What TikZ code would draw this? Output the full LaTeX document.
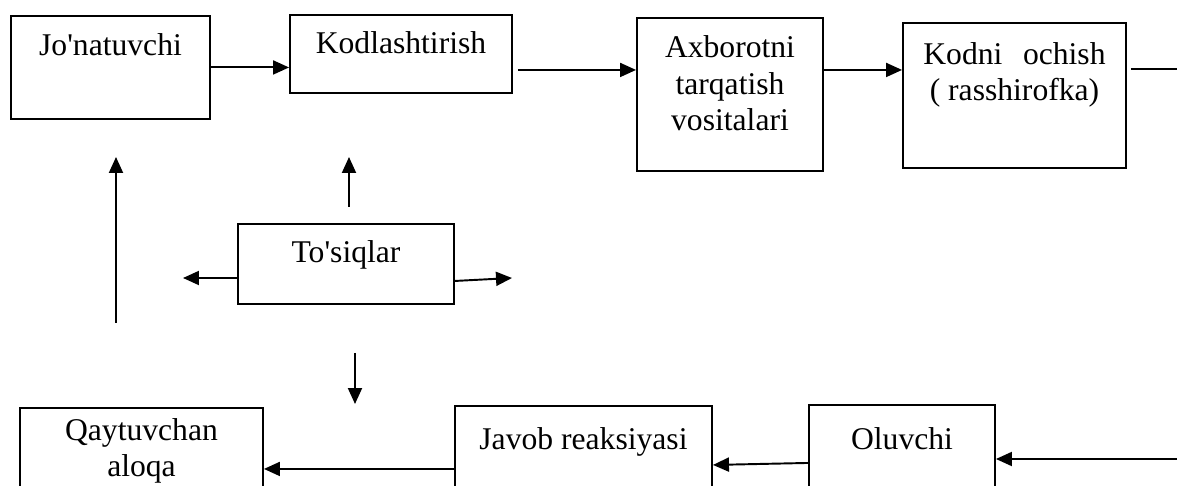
\documentclass[tikz,border=0pt]{standalone}
\usepackage{fontspec}
\setmainfont{Liberation Serif}
\usetikzlibrary{arrows.meta}

\tikzset{
	blok/.style n args={3}{draw, line width=1.1pt, inner sep=0pt, anchor=north, align=center,
		minimum width=#1, text height=#2, text depth=#3},
	strelka/.style={line width=1.1pt, -{Triangle[length=0.32cm, width=0.28cm]}}
}

\begin{document}
\begin{tikzpicture}[x=0.02cm, y=-0.02cm, font=\fontsize{18pt}{21pt}\selectfont]
	% The page
	\useasboundingbox (0, 0) rectangle (1177, 486);
	\clip (0, 0) rectangle (1177, 486);
	% The upper row (text height is the offset of the last line)
	\node[blok={3.98cm}{0.80cm}{1.26cm}] (jonat) at (110.5, 15) {Jo\textquotesingle natuvchi};
	\node[blok={4.44cm}{0.78cm}{0.78cm}] (kodlash) at (401, 14) {Kodlashtirish};
	\node[blok={3.72cm}{2.26cm}{0.80cm}] (axborot) at (730, 17) {Axborotni\\tarqatish\\vositalari};
	\node[blok={4.46cm}{1.56cm}{1.34cm}] (kodni) at (1014.5, 22) {Kodni\hspace{0.4em} ochish\\( rasshirofka)};
	% The obstacles
	\node[blok={4.32cm}{0.78cm}{0.82cm}] (tosiq) at (346, 223) {To\textquotesingle siqlar};
	% The lower row
	\node[blok={4.86cm}{1.38cm}{0.62cm}, font=\fontsize{18pt}{20.5pt}\selectfont] (qaytuv) at (141.5, 407) {Qaytuvchan\\aloqa};
	\node[blok={5.14cm}{0.88cm}{1.12cm}] (javob) at (583.5, 405) {Javob reaksiyasi};
	\node[blok={3.72cm}{0.90cm}{1.10cm}] (oluvchi) at (902, 404) {Oluvchi};
	% Free ends of the arrows
	\coordinate (chapquyi) at (116, 323);
	\coordinate (chaptepa) at (116, 157);
	\coordinate (tepaquyi) at (349, 207);
	\coordinate (tepatepa) at (349, 157);
	\coordinate (chapuch) at (183, 278);
	\coordinate (ungquyi) at (512, 278);
	\coordinate (pasttepa) at (355, 353);
	\coordinate (pastquyi) at (355, 404);
	\coordinate (ungtepa) at (1177, 69);
	\coordinate (ungpast) at (1177, 459);
	% The message goes to the right
	\draw[strelka] (jonat.east) -- (jonat.east -| kodlash.west);
	\draw[strelka] ([xshift=0.1cm, yshift=-0.32cm]kodlash.east) -- ([yshift=-0.32cm]kodlash.east -| axborot.west);
	\draw[strelka] ([yshift=0.49cm]axborot.east) -- ([yshift=0.49cm]axborot.east -| kodni.west);
	\draw[line width=1.1pt] ([xshift=0.08cm]kodni.east |- ungtepa) -- (ungtepa);
	% The answer comes back to the left
	\draw[strelka] (ungpast) -- (ungpast -| oluvchi.east);
	\draw[strelka] ([yshift=-0.16cm]oluvchi.west) -- ([yshift=-0.2cm]oluvchi.west -| javob.east);
	\draw[strelka] ([yshift=-0.26cm]javob.west) -- ([yshift=-0.26cm]javob.west -| qaytuv.east);
	\draw[strelka] (chapquyi) -- (chaptepa);
	% Arrows round the obstacles
	\draw[strelka] (tepaquyi) -- (tepatepa);
	\draw[strelka] (tosiq.west |- chapuch) -- (chapuch);
	\draw[strelka] ([yshift=-0.34cm]tosiq.east) -- (ungquyi);
	\draw[strelka] (pasttepa) -- (pastquyi);
\end{tikzpicture}
\end{document}
